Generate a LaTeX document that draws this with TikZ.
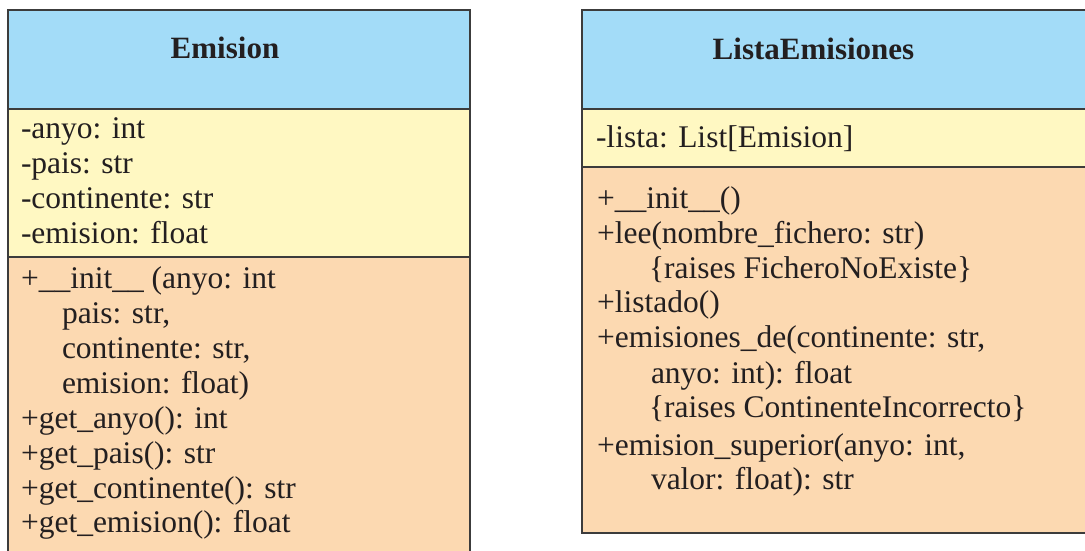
\documentclass[tikz,border=0pt]{standalone}
\usepackage{fontspec}
\setmainfont{Liberation Serif}
\definecolor{hdr}{HTML}{A3DCF8}
\definecolor{attr}{HTML}{FFF8C2}
\definecolor{meth}{HTML}{FCD9B1}
\definecolor{edge}{HTML}{3C3C3C}
\definecolor{ink}{HTML}{231F20}
\tikzset{
  section/.style={draw=edge, line width=1.5pt, anchor=north west, inner sep=0, outer sep=0},
  txt/.style={anchor=base west, inner sep=0, outer sep=0, text=ink, font=\fontsize{31.5}{35}\selectfont},
  ttl/.style={anchor=base, inner sep=0, outer sep=0, text=ink, font=\fontsize{31}{35}\selectfont\bfseries}
}
\begin{document}
\begin{tikzpicture}[x=1pt,y=-1pt]
\clip (0,0) rectangle (1085,551);
\fill[white] (0,0) rectangle (1085,551);
% ---- Emision ----
\node[section, fill=meth, minimum width=462pt, minimum height=320pt] (emeth) at (8,257) {};
\node[section, fill=attr, minimum width=462pt, minimum height=148pt] (eattr) at (8,109) {};
\node[section, fill=hdr, minimum width=462pt, minimum height=99pt] (ehead) at (8,10) {};
\node[ttl] (etitle) at (225,59) {Emision};
\node[txt] (ea1) at (21,138) {-anyo: int};
\node[txt] (ea2) at (21,173) {-pais: str};
\node[txt] (ea3) at (21,208) {-continente: str};
\node[txt] (ea4) at (21,243) {-emision: float};
\node[txt] (em1) at (21,288) {+\_\_init\_\_ (anyo: int};
\node[txt] (em2) at (62,323) {pais: str,};
\node[txt] (em3) at (62,358) {continente: str,};
\node[txt] (em4) at (62,393) {emision: float)};
\node[txt] (em5) at (21,428) {+get\_anyo(): int};
\node[txt] (em6) at (21,463) {+get\_pais(): str};
\node[txt] (em7) at (21,498) {+get\_continente(): str};
\node[txt] (em8) at (21,532) {+get\_emision(): float};
% ---- ListaEmisiones ----
\node[section, fill=meth, minimum width=520pt, minimum height=366pt] (lmeth) at (582,167) {};
\node[section, fill=attr, minimum width=520pt, minimum height=58pt] (lattr) at (582,109) {};
\node[section, fill=hdr, minimum width=520pt, minimum height=99pt] (lhead) at (582,10) {};
\node[ttl] (ltitle) at (813.5,60) {ListaEmisiones};
\node[txt] (la1) at (596,147) {-lista: List[Emision]};
\node[txt] (lm1) at (597,208) {+\_\_init\_\_()};
\node[txt] (lm2) at (597,243) {+lee(nombre\_fichero: str)};
\node[txt] (lm3) at (649,278) {\{raises FicheroNoExiste\}};
\node[txt] (lm4) at (597,312) {+listado()};
\node[txt] (lm5) at (597,347) {+emisiones\_de(continente: str,};
\node[txt] (lm6) at (651,383) {anyo: int): float};
\node[txt] (lm7) at (649,417) {\{raises ContinenteIncorrecto\}};
\node[txt] (lm8) at (597,455) {+emision\_superior(anyo: int,};
\node[txt] (lm9) at (651,489) {valor: float): str};
\end{tikzpicture}
\end{document}
